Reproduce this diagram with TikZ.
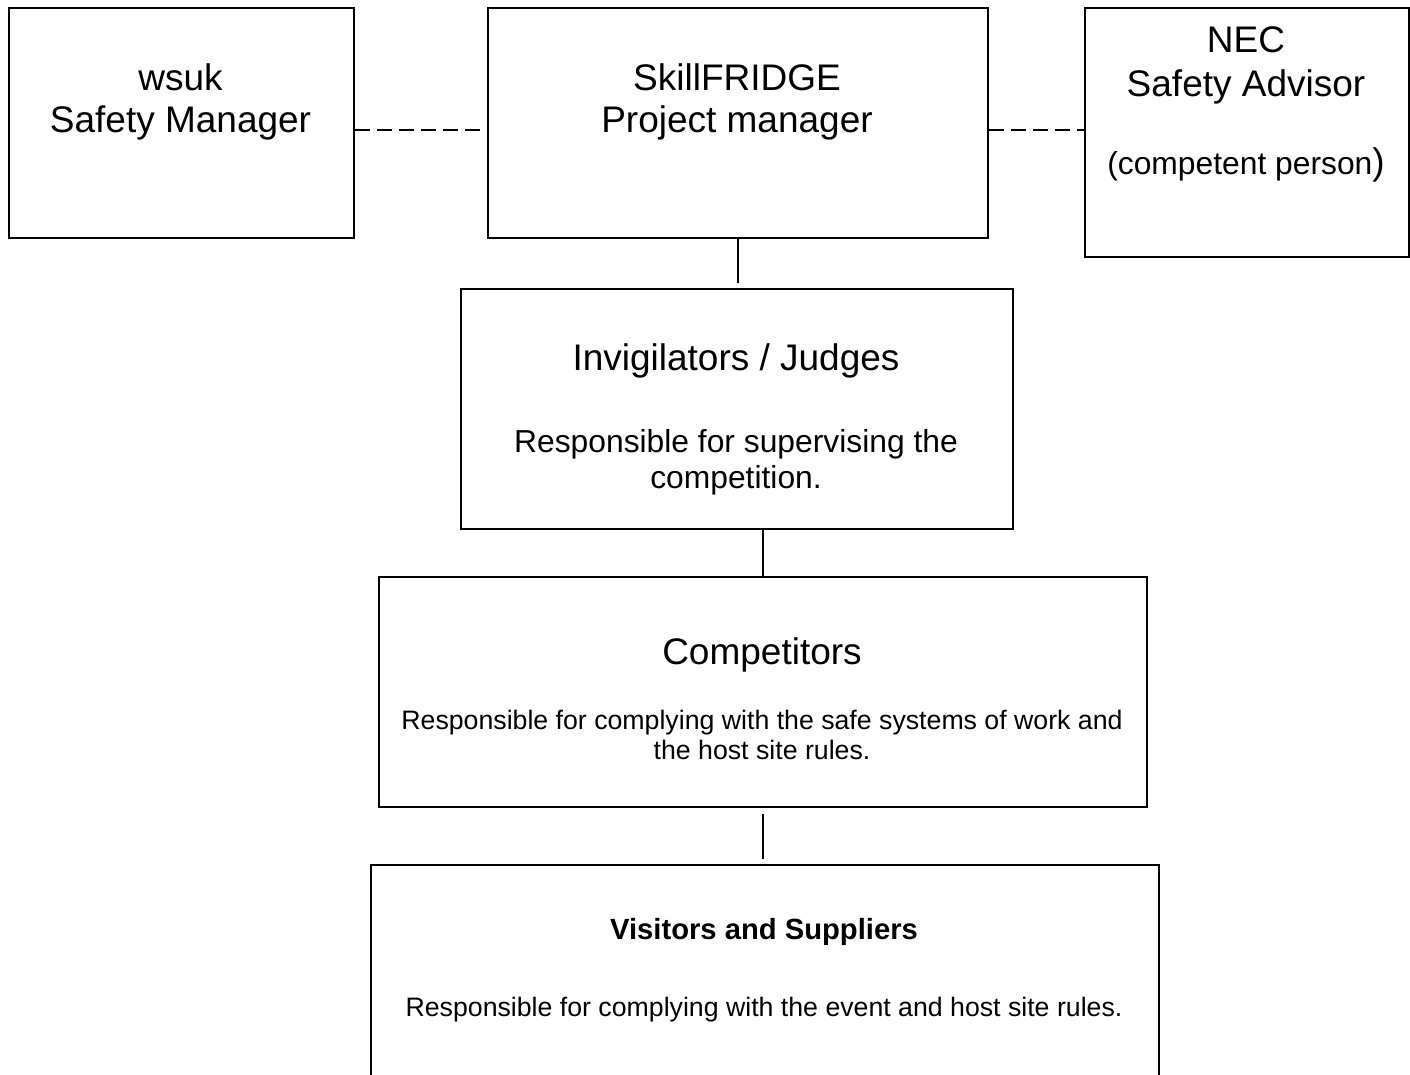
\documentclass[tikz,border=0pt]{standalone}
\usepackage{fontspec}
\setmainfont{Liberation Sans}
\begin{document}
\begin{tikzpicture}[x=1pt,y=-1pt,
  box/.style={draw, line width=2pt, inner sep=0pt, anchor=north west},
  big/.style={font=\fontsize{37}{42}\selectfont, anchor=base, inner sep=0pt},
  mid/.style={font=\fontsize{31.8}{36}\selectfont, anchor=base, inner sep=0pt},
  small/.style={font=\fontsize{26.7}{30}\selectfont, anchor=base, inner sep=0pt},
  boldtxt/.style={font=\fontsize{29.2}{33}\selectfont\bfseries, anchor=base, inner sep=0pt},
  link/.style={line width=2pt},
  dashlink/.style={line width=2pt, dash pattern=on 15pt off 7pt}]
\useasboundingbox (0,0) rectangle (1410,1075);
\fill[white] (0,0) rectangle (1410,1075);
\clip (0,0) rectangle (1410,1075);

% boxes
\node[box, minimum width=345pt, minimum height=230pt] (wsuk) at (8,7) {};
\node[box, minimum width=500pt, minimum height=230pt] (skill) at (487,7) {};
\node[box, minimum width=324pt, minimum height=249pt] (nec) at (1084,7) {};
\node[box, minimum width=552pt, minimum height=240pt] (invig) at (460,288) {};
\node[box, minimum width=768pt, minimum height=230pt] (comp) at (378,576) {};
\node[box, minimum width=788pt, minimum height=260pt] (vis) at (370,864) {};

% texts
\node[big] (t1) at (180.5,91) {wsuk};
\node[big] (t2) at (180.5,133) {Safety Manager};
\node[big] (t3) at (737,91) {SkillFRIDGE};
\node[big] (t4) at (737,133) {Project manager};
\node[big] (t5) at (1246,53) {NEC};
\node[big] (t6) at (1246,97) {Safety Advisor};
\node[mid] (t7) at (1246,175) {(competent person{\fontsize{37}{42}\selectfont)}};
\node[big] (t8) at (736,370) {Invigilators / Judges};
\node[mid] (t9) at (736,452) {Responsible for supervising the};
\node[mid] (t10) at (736,488) {competition.};
\node[big] (t11) at (762,664) {Competitors};
\node[small] (t12) at (762,729) {Responsible for complying with the safe systems of work and};
\node[small] (t13) at (762,759) {the host site rules.};
\node[boldtxt] (t14) at (764,939) {Visitors and Suppliers};
\node[small] (t15) at (764,1016) {Responsible for complying with the event and host site rules.};

% connectors
\draw[dashlink] ([yshift=-7pt]wsuk.east) -- ([yshift=-7pt]wsuk.east -| skill.west);
\draw[dashlink] ([yshift=-7pt]skill.east) -- ([yshift=-7pt]skill.east -| nec.west);
\draw[link, shorten >=5pt] (skill.south) -- (skill.south |- invig.north);
\draw[link] (comp.north) -- (comp.north |- invig.south);
\draw[link, shorten <=6pt, shorten >=5pt] (comp.south) -- (comp.south |- vis.north);
\end{tikzpicture}
\end{document}
